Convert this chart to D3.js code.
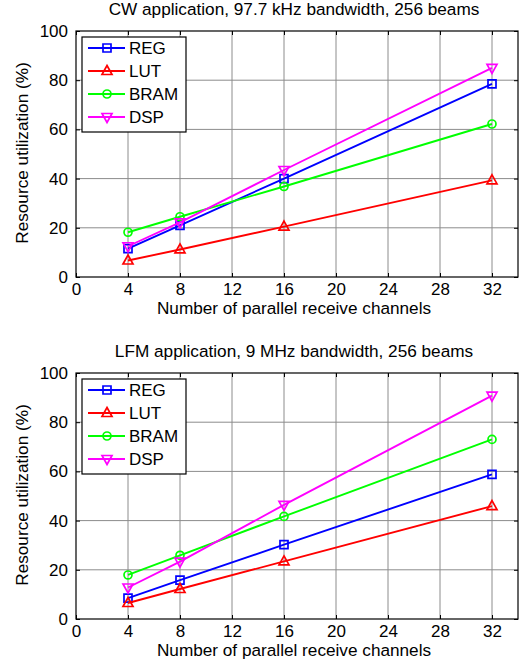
<!DOCTYPE html>
<html>
<head>
<meta charset="utf-8">
<script src="https://cdn.jsdelivr.net/npm/d3@7"></script>
<style>
  body { margin: 0; background: #fff; }
  svg { font-family: "Liberation Sans", Arial, sans-serif; }
</style>
</head>
<body>
<div id="chart"></div>
<script>
// channel counts on the x axis
const channels = [4, 8, 16, 32];
const xTicks = [0, 4, 8, 12, 16, 20, 24, 28, 32];
const yTicks = [0, 20, 40, 60, 80, 100];
const seriesNames = ['REG', 'LUT', 'BRAM', 'DSP'];

// CW application, 97.7 kHz bandwidth
const cwReg = [11.5, 21, 40, 78.5];
const cwLut = [6.7, 11.2, 20.5, 39.3];
const cwBram = [18.2, 24.5, 36.8, 62.2];
const cwDsp = [12.5, 22.2, 43.5, 85];

// LFM application, 9 MHz bandwidth
const lfmReg = [8.5, 15.8, 30.2, 58.8];
const lfmLut = [6.5, 12.2, 23.4, 45.9];
const lfmBram = [17.9, 25.9, 41.7, 73];
const lfmDsp = [12.8, 23.3, 46.4, 90.8];

const titles = [
    'CW application, 97.7 kHz bandwidth, 256 beams',
    'LFM application, 9 MHz bandwidth, 256 beams',
];

const COLORS = { REG: '#0000ff', LUT: '#ff0000', BRAM: '#00ff00', DSP: '#ff00ff' };

const WIDTH = 524;
const HEIGHT = 668;
const PLOT = { LEFT: 76, RIGHT: 518, HEIGHT: 246 };
const TOPS = [31, 373];

const svg = d3.select('#chart')
    .append('svg')
    .attr('width', WIDTH)
    .attr('height', HEIGHT);

const xScale = d3.scaleLinear().domain([0, 34]).range([PLOT.LEFT, PLOT.RIGHT]);

function markerPath(name) {
    if (name === 'REG') return 'M-4,-4H4V4H-4Z';
    if (name === 'LUT') return 'M0,-5.5L5,3.5H-5Z';
    if (name === 'DSP') return 'M0,5.5L5,-3.5H-5Z';
    return d3.symbol(d3.symbolCircle, 50)();
}

function drawPanel(top, title, data) {
    const yScale = d3.scaleLinear().domain([0, 100]).range([top + PLOT.HEIGHT, top]);
    const g = svg.append('g');
    const bottom = yScale(0);

    // grid
    g.append('g').selectAll('line').data(xTicks.slice(1)).join('line')
        .attr('x1', (d) => xScale(d)).attr('x2', (d) => xScale(d))
        .attr('y1', top).attr('y2', bottom)
        .attr('stroke', '#8c8c8c').attr('stroke-width', 1);
    g.append('g').selectAll('line').data(yTicks.slice(1, -1)).join('line')
        .attr('x1', PLOT.LEFT).attr('x2', PLOT.RIGHT)
        .attr('y1', (d) => yScale(d)).attr('y2', (d) => yScale(d))
        .attr('stroke', '#8c8c8c').attr('stroke-width', 1);

    // axes (ticks pointing inward)
    const xAxis = g.append('g')
        .attr('transform', `translate(0, ${bottom})`)
        .call(d3.axisBottom(xScale).tickValues(xTicks).tickSizeInner(-4).tickSizeOuter(0).tickPadding(6));
    const xTop = g.append('g')
        .attr('transform', `translate(0, ${top})`)
        .call(d3.axisTop(xScale).tickValues(xTicks).tickSizeInner(-4).tickSizeOuter(0).tickFormat(''));
    const yAxis = g.append('g')
        .attr('transform', `translate(${PLOT.LEFT}, 0)`)
        .call(d3.axisLeft(yScale).tickValues(yTicks).tickSizeInner(-4).tickSizeOuter(0).tickPadding(8));
    const yRight = g.append('g')
        .attr('transform', `translate(${PLOT.RIGHT}, 0)`)
        .call(d3.axisRight(yScale).tickValues(yTicks).tickSizeInner(-4).tickSizeOuter(0).tickFormat(''));

    [xAxis, xTop, yAxis, yRight].forEach((a) => {
        a.select('.domain').remove();
        a.selectAll('line').attr('stroke', '#000');
        a.selectAll('text')
            .attr('font-family', '"Liberation Sans", Arial, sans-serif')
            .attr('font-size', 17)
            .attr('fill', '#000');
    });

    g.append('rect')
        .attr('x', PLOT.LEFT).attr('y', top)
        .attr('width', PLOT.RIGHT - PLOT.LEFT).attr('height', PLOT.HEIGHT)
        .attr('fill', 'none').attr('stroke', '#000').attr('stroke-width', 1.2);

    // lines + markers
    const lineGenerator = d3.line()
        .x((d, i) => xScale(channels[i]))
        .y((d) => yScale(d));

    data.forEach((values, k) => {
        const name = seriesNames[k];
        g.append('path')
            .attr('d', lineGenerator(values))
            .attr('fill', 'none')
            .attr('stroke', COLORS[name])
            .attr('stroke-width', 1.9);
        g.append('g').selectAll('path').data(values).join('path')
            .attr('transform', (d, i) => `translate(${xScale(channels[i])}, ${yScale(d)})`)
            .attr('d', markerPath(name))
            .attr('fill', 'none')
            .attr('stroke', COLORS[name])
            .attr('stroke-width', 1.7);
    });

    // legend
    const lg = g.append('g').attr('transform', `translate(82, ${top + 6})`);
    lg.append('rect')
        .attr('width', 104).attr('height', 95)
        .attr('fill', '#fff').attr('stroke', '#000').attr('stroke-width', 1.2);
    seriesNames.forEach((name, i) => {
        const y = 11 + i * 23;
        lg.append('line')
            .attr('x1', 6).attr('x2', 43).attr('y1', y).attr('y2', y)
            .attr('stroke', COLORS[name]).attr('stroke-width', 1.9);
        lg.append('path')
            .attr('transform', `translate(25, ${y})`)
            .attr('d', markerPath(name))
            .attr('fill', 'none').attr('stroke', COLORS[name]).attr('stroke-width', 1.7);
        lg.append('text')
            .attr('x', 47).attr('y', y).attr('dy', '0.36em')
            .attr('font-size', 17)
            .text(name);
    });

    // titles and labels
    g.append('text')
        .attr('x', (PLOT.LEFT + PLOT.RIGHT) / 2 - 3).attr('y', top - 16)
        .attr('text-anchor', 'middle')
        .attr('font-size', 17.2)
        .text(title);
    g.append('text')
        .attr('x', (PLOT.LEFT + PLOT.RIGHT) / 2 - 3).attr('y', bottom + 37)
        .attr('text-anchor', 'middle')
        .attr('font-size', 17.2)
        .text('Number of parallel receive channels');
    g.append('text')
        .attr('transform', `translate(28, ${top + PLOT.HEIGHT / 2 - 1}) rotate(-90)`)
        .attr('text-anchor', 'middle')
        .attr('font-size', 17.2)
        .text('Resource utilization (%)');
}

drawPanel(TOPS[0], titles[0], [cwReg, cwLut, cwBram, cwDsp]);
drawPanel(TOPS[1], titles[1], [lfmReg, lfmLut, lfmBram, lfmDsp]);
</script>
</body>
</html>
